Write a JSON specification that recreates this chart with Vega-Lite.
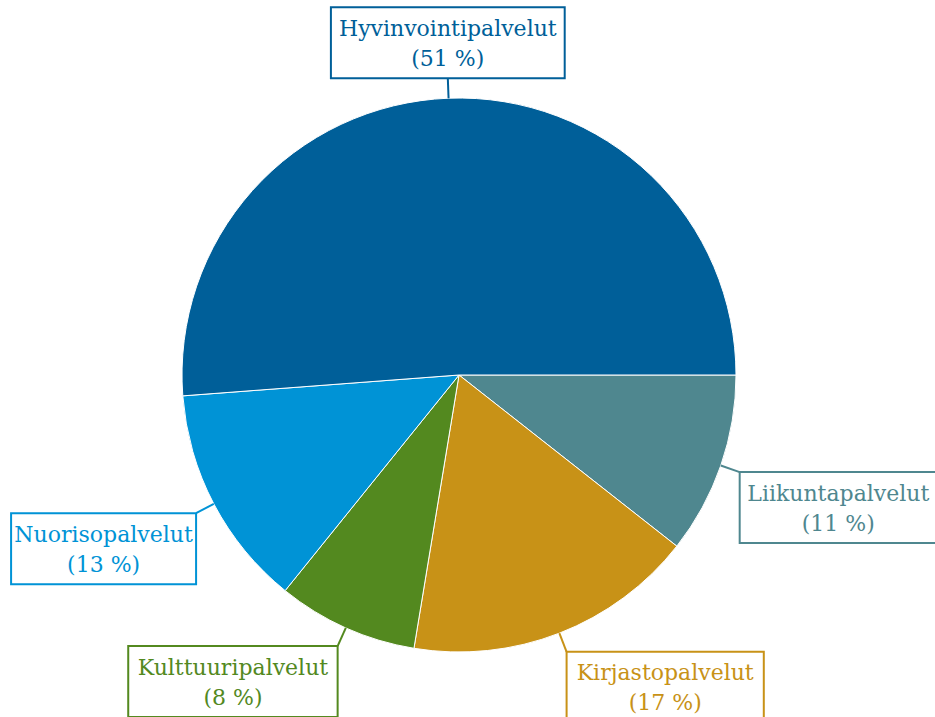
{
  "$schema": "https://vega.github.io/schema/vega-lite/v6.json",
  "width": 935,
  "height": 717,
  "autosize": {"type": "none"},
  "padding": 0,
  "background": "white",
  "config": {"view": {"stroke": null}},
  "data": {
    "values": [
      {"palvelu": "Liikuntapalvelut", "osuus": 10.6, "jarjestys": 1},
      {"palvelu": "Kirjastopalvelut", "osuus": 17.0, "jarjestys": 2},
      {"palvelu": "Kulttuuripalvelut", "osuus": 8.2, "jarjestys": 3},
      {"palvelu": "Nuorisopalvelut", "osuus": 13.0, "jarjestys": 4},
      {"palvelu": "Hyvinvointipalvelut", "osuus": 51.2, "jarjestys": 5}
    ]
  },
  "transform": [
    {"window": [{"op": "sum", "field": "osuus", "as": "cum"}], "sort": [{"field": "jarjestys"}]},
    {"joinaggregate": [{"op": "sum", "field": "osuus", "as": "total"}]},
    {"calculate": "PI/2 + 2*PI*(datum.cum - datum.osuus/2)/datum.total", "as": "mid"},
    {"calculate": "sin(datum.mid)", "as": "dx"},
    {"calculate": "-cos(datum.mid)", "as": "dy"},
    {"calculate": "277*datum.dx", "as": "x0"},
    {"calculate": "277*datum.dy", "as": "y0"},
    {"calculate": "297*datum.dx", "as": "x1"},
    {"calculate": "297*datum.dy", "as": "y1"},
    {"calculate": "12.2*length(datum.palvelu) + 2", "as": "w"},
    {"calculate": "abs(datum.dx) < 0.1 ? 0 : (datum.dx > 0 ? 1 : -1)", "as": "sx"},
    {"calculate": "abs(datum.dy) < 0.1 ? 0 : (datum.dy > 0 ? 1 : -1)", "as": "sy"},
    {"calculate": "datum.x1 + datum.sx*datum.w/2", "as": "cx"},
    {"calculate": "datum.y1 + datum.sy*71/2", "as": "cy"},
    {"calculate": "datum.cx - datum.w/2", "as": "bx0"},
    {"calculate": "datum.cx + datum.w/2", "as": "bx1"},
    {"calculate": "datum.cy - 35.5", "as": "by0"},
    {"calculate": "datum.cy + 35.5", "as": "by1"},
    {"calculate": "[datum.palvelu, '(' + format(datum.osuus/datum.total*100, '.0f') + ' %)']", "as": "teksti"}
  ],
  "layer": [
    {
      "mark": {"type": "arc", "outerRadius": 277, "stroke": "white", "strokeWidth": 1},
      "encoding": {
        "x": {"datum": 0, "type": "quantitative", "scale": {"domain": [-459, 476], "nice": false, "zero": false}, "axis": null},
        "y": {"datum": 0, "type": "quantitative", "scale": {"domain": [-375, 342], "reverse": true, "nice": false, "zero": false}, "axis": null},
        "theta": {"field": "osuus", "type": "quantitative", "stack": true, "scale": {"range": [1.5707963, 7.8539816]}},
        "order": {"field": "jarjestys", "type": "quantitative"},
        "color": {
          "field": "palvelu", "type": "nominal", "legend": null,
          "scale": {
            "domain": ["Liikuntapalvelut", "Kirjastopalvelut", "Kulttuuripalvelut", "Nuorisopalvelut", "Hyvinvointipalvelut"],
            "range": ["#4f878f", "#c89217", "#53891f", "#0093d6", "#005f99"]
          }
        }
      }
    },
    {
      "mark": {"type": "rule", "strokeWidth": 2},
      "encoding": {
        "x": {"field": "x0", "type": "quantitative"},
        "y": {"field": "y0", "type": "quantitative"},
        "x2": {"field": "x1"},
        "y2": {"field": "y1"},
        "color": {"field": "palvelu", "type": "nominal", "legend": null}
      }
    },
    {
      "mark": {"type": "rect", "fill": "white", "strokeWidth": 2},
      "encoding": {
        "x": {"field": "bx0", "type": "quantitative"},
        "x2": {"field": "bx1"},
        "y": {"field": "by0", "type": "quantitative"},
        "y2": {"field": "by1"},
        "stroke": {"field": "palvelu", "type": "nominal", "legend": null, "scale": {
            "domain": ["Liikuntapalvelut", "Kirjastopalvelut", "Kulttuuripalvelut", "Nuorisopalvelut", "Hyvinvointipalvelut"],
            "range": ["#4f878f", "#c89217", "#53891f", "#0093d6", "#005f99"]
          }}
      }
    },
    {
      "mark": {"type": "text", "font": "DejaVu Serif", "fontSize": 22, "align": "center", "baseline": "middle", "lineHeight": 30, "dy": -14},
      "encoding": {
        "x": {"field": "cx", "type": "quantitative"},
        "y": {"field": "cy", "type": "quantitative"},
        "text": {"field": "teksti"},
        "color": {"field": "palvelu", "type": "nominal", "legend": null}
      }
    }
  ]
}
